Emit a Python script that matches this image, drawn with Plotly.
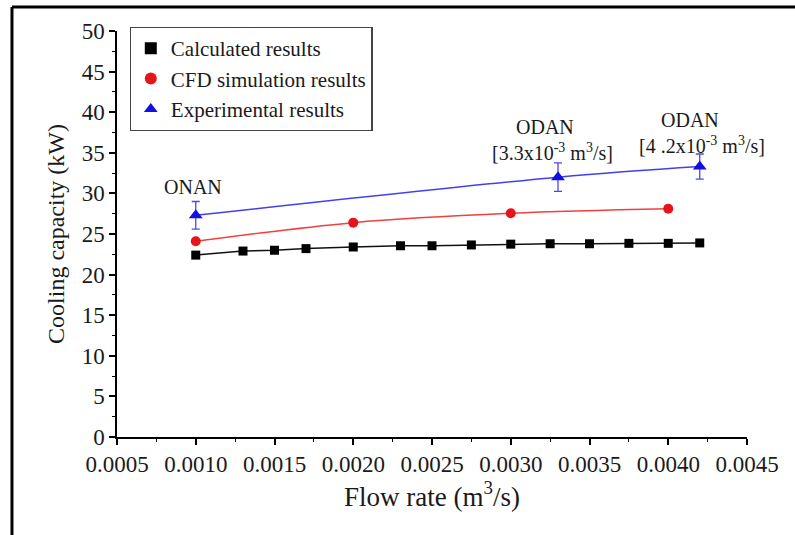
import plotly.graph_objects as go

# ---- data ----
calc_x = [0.0010, 0.0013, 0.0015, 0.0017, 0.0020, 0.0023, 0.0025, 0.00275,
          0.0030, 0.00325, 0.0035, 0.00375, 0.0040, 0.0042]
calc_y = [22.4, 22.9, 23.0, 23.2, 23.4, 23.55, 23.55, 23.65,
          23.75, 23.8, 23.8, 23.85, 23.85, 23.9]

cfd_x = [0.0010, 0.0020, 0.0030, 0.0040]
cfd_y = [24.1, 26.4, 27.55, 28.1]

exp_x = [0.0010, 0.0033, 0.0042]
exp_y = [27.3, 32.0, 33.3]
exp_err = [1.7, 1.75, 1.55]

x_ticks = [0.0005, 0.0010, 0.0015, 0.0020, 0.0025, 0.0030, 0.0035, 0.0040, 0.0045]
x_ticklabels = ["0.0005", "0.0010", "0.0015", "0.0020", "0.0025", "0.0030", "0.0035", "0.0040", "0.0045"]
y_ticks = [0, 5, 10, 15, 20, 25, 30, 35, 40, 45, 50]

FONT = "Liberation Serif, Times New Roman, serif"
TXT = "#1a1a1a"

fig = go.Figure()

# lines (no legend)
fig.add_trace(go.Scatter(x=calc_x, y=calc_y, mode="lines",
                         line=dict(color="#111111", width=1.5), showlegend=False, hoverinfo="skip"))
fig.add_trace(go.Scatter(x=cfd_x, y=cfd_y, mode="lines", line_shape="spline",
                         line=dict(color="#f04040", width=1.5), showlegend=False, hoverinfo="skip"))
fig.add_trace(go.Scatter(x=exp_x, y=exp_y, mode="lines", line_shape="spline",
                         line=dict(color="#4040f0", width=1.5), showlegend=False, hoverinfo="skip"))

# markers (legend)
fig.add_trace(go.Scatter(x=calc_x, y=calc_y, mode="markers", name="Calculated results",
                         marker=dict(symbol="square", size=9, color="black")))
fig.add_trace(go.Scatter(x=cfd_x, y=cfd_y, mode="markers", name="CFD simulation results",
                         marker=dict(symbol="circle", size=10, color="#e8141b")))
fig.add_trace(go.Scatter(x=exp_x, y=exp_y, mode="markers", name="Experimental results",
                         marker=dict(symbol="triangle-up", size=12, color="#1010e0"),
                         error_y=dict(type="data", array=exp_err, visible=True,
                                      color="#4a4ae8", thickness=1.3, width=4)))

ann_font = dict(family=FONT, size=20, color=TXT)
fig.add_annotation(x=0.000983, y=30.8, text="ONAN", showarrow=False, font=ann_font)
fig.add_annotation(x=0.003217, y=38.2, text="ODAN", showarrow=False, font=ann_font)
fig.add_annotation(x=0.003268, y=35.1, text="[3.3x10<sup>-3</sup> m<sup>3</sup>/s]",
                   showarrow=False, font=ann_font)
fig.add_annotation(x=0.004138, y=39.0, text="ODAN", showarrow=False, font=ann_font)
fig.add_annotation(x=0.004214, y=36.0, text="[4 .2x10<sup>-3</sup> m<sup>3</sup>/s]",
                   showarrow=False, font=ann_font)

# outer frame (left and top edges of cropped figure)
fig.add_shape(type="line", xref="paper", yref="paper", x0=-0.1667, x1=-0.1667, y0=1.059, y1=-0.3,
              line=dict(color="black", width=3))
fig.add_shape(type="line", xref="paper", yref="paper", x0=-0.1667, x1=1.2, y0=1.059, y1=1.059,
              line=dict(color="black", width=3))

fig.update_layout(
    width=795, height=535,
    margin=dict(l=117, r=48, t=31, b=98),
    paper_bgcolor="white", plot_bgcolor="white",
    font=dict(family=FONT, size=21, color=TXT),
    legend=dict(x=0.02, y=1.01, xanchor="left", yanchor="top",
                bordercolor="#444444", borderwidth=1.2, bgcolor="white",
                font=dict(family=FONT, size=21, color=TXT),
                tracegroupgap=0, itemsizing="constant"),
    showlegend=True,
)

fig.update_xaxes(range=[0.0005, 0.0045], tickvals=x_ticks, ticktext=x_ticklabels,
                 tickfont=dict(family=FONT, size=23, color=TXT),
                 showgrid=False, zeroline=False, showline=True, linecolor="black", linewidth=1.5,
                 ticks="outside", ticklen=6, tickwidth=1.5, tickcolor="black",
                 minor=dict(ticks="outside", ticklen=3, tickwidth=1.2, tickcolor="black", dtick=0.00025,
                            tick0=0.0005),
                 title=dict(text="Flow rate (m<sup>3</sup>/s)", font=dict(family=FONT, size=27),
                            standoff=10))
fig.update_yaxes(range=[0, 50], tickvals=y_ticks,
                 tickfont=dict(family=FONT, size=23, color=TXT),
                 showgrid=False, zeroline=False, showline=True, linecolor="black", linewidth=1.5,
                 ticks="outside", ticklen=6, tickwidth=1.5, tickcolor="black",
                 minor=dict(ticks="outside", ticklen=3, tickwidth=1.2, tickcolor="black", dtick=2.5),
                 title=dict(text="Cooling capacity (kW)", font=dict(family=FONT, size=24),
                            standoff=10))

fig.write_html("out.html")
